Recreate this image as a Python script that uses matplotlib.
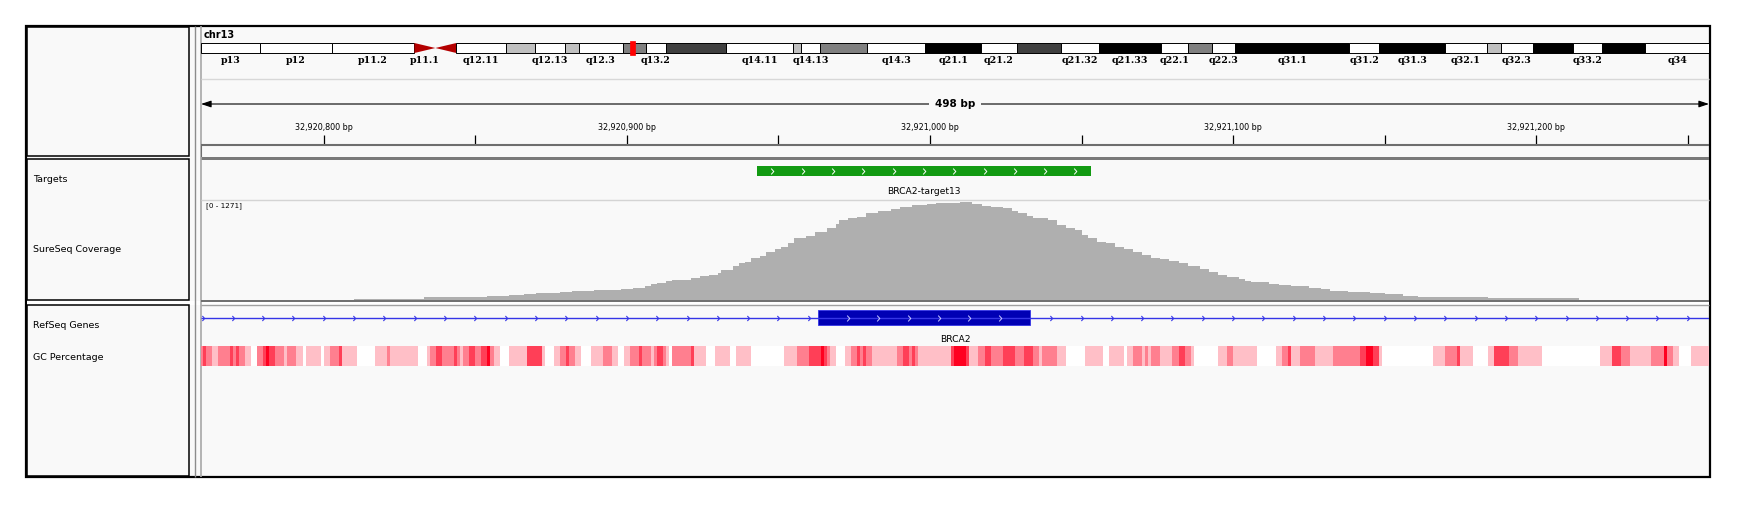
import numpy as np
import matplotlib
matplotlib.use("Agg")
import matplotlib.pyplot as plt
from matplotlib.colors import LinearSegmentedColormap, Normalize
from matplotlib.patches import Rectangle, Polygon
from matplotlib.path import Path

# ---------------------------------------------------------------- data
chrom = "chr13"
chrom_length = 115169878
view_start = 32920759.5
view_end = 32921257.0
data_range_max = 1271

band_names = ["p13", "p12", "p11.2", "p11.1", "q11", "q12.11", "q12.12", "q12.13",
              "q12.2", "q12.3", "q13.1", "q13.2", "q13.3", "q14.11", "q14.12",
              "q14.13", "q14.2", "q14.3", "q21.1", "q21.2", "q21.31", "q21.32",
              "q21.33", "q22.1", "q22.2", "q22.3", "q31.1", "q31.2", "q31.3",
              "q32.1", "q32.2", "q32.3", "q33.1", "q33.2", "q33.3", "q34"]
band_starts = [0, 4500000, 10000000, 16300000, 17900000, 19500000, 23300000,
               25500000, 27800000, 28900000, 32200000, 34000000, 35500000,
               40100000, 45200000, 45800000, 47300000, 50900000, 55300000,
               59600000, 62300000, 65700000, 68600000, 73300000, 75400000,
               77200000, 79000000, 87700000, 90000000, 95000000, 98200000,
               99300000, 101700000, 104800000, 107000000, 110300000]
band_stains = ["gvar", "stalk", "gvar", "acen", "acen", "gneg", "gpos25", "gneg",
               "gpos25", "gneg", "gpos50", "gneg", "gpos75", "gneg", "gpos25",
               "gneg", "gpos50", "gneg", "gpos100", "gneg", "gpos75", "gneg",
               "gpos100", "gneg", "gpos50", "gneg", "gpos100", "gneg", "gpos100",
               "gneg", "gpos25", "gneg", "gpos100", "gneg", "gpos100", "gneg"]
labelled_bands = ["p13", "p12", "p11.2", "p11.1", "q12.11", "q12.13", "q12.3",
                  "q13.2", "q14.11", "q14.13", "q14.3", "q21.1", "q21.2", "q21.32",
                  "q21.33", "q22.1", "q22.3", "q31.1", "q31.2", "q31.3", "q32.1",
                  "q32.3", "q33.2", "q34"]

track_names = ["Targets", "SureSeq Coverage", "RefSeq Genes", "GC Percentage"]

target_name = "BRCA2-target13"
target_start = 32920943
target_end = 32921053

gene_name = "BRCA2"
exon_start = 32920963
exon_end = 32921033

cov_start = [32920810, 32920833, 32920854, 32920861, 32920866, 32920870, 32920878,
             32920882, 32920889, 32920894, 32920898, 32920902, 32920906, 32920908,
             32920910, 32920913, 32920915, 32920921, 32920924, 32920927, 32920930,
             32920931, 32920935, 32920937, 32920939, 32920941, 32920944, 32920946,
             32920949, 32920951, 32920953, 32920955, 32920959, 32920962, 32920966,
             32920969, 32920970, 32920973, 32920976, 32920979, 32920983, 32920987,
             32920990, 32920994, 32920999, 32921002, 32921010, 32921014, 32921017,
             32921020, 32921024, 32921027, 32921029, 32921032, 32921034, 32921039,
             32921042, 32921045, 32921048, 32921050, 32921052, 32921055, 32921058,
             32921061, 32921064, 32921067, 32921070, 32921073, 32921076, 32921079,
             32921082, 32921085, 32921089, 32921092, 32921095, 32921098, 32921102,
             32921104, 32921106, 32921112, 32921115, 32921119, 32921125, 32921129,
             32921132, 32921138, 32921145, 32921150, 32921156, 32921161, 32921184]
cov_end = 32921214
cov_depth = [17, 38, 51, 64, 76, 89, 98,
             111, 123, 131, 144, 156, 182, 200,
             216, 241, 258, 276, 301, 318, 347,
             381, 436, 466, 487, 530, 559, 614,
             648, 677, 728, 784, 817, 860, 911,
             962, 1017, 1040, 1059, 1102, 1135, 1157,
             1186, 1207, 1224, 1233, 1242, 1220, 1195,
             1178, 1165, 1135, 1102, 1071, 1038, 1017,
             953, 911, 890, 826, 784, 741, 721,
             677, 648, 614, 572, 538, 521, 496,
             466, 432, 394, 352, 318, 296, 267,
             241, 225, 203, 191, 174, 156, 140,
             118, 98, 89, 76, 51, 34, 22]

gc_start = [32920759, 32920760, 32920761, 32920763, 32920765, 32920769, 32920770,
            32920771, 32920772, 32920774, 32920776, 32920778, 32920780, 32920781,
            32920782, 32920784, 32920787, 32920788, 32920791, 32920793, 32920794,
            32920799, 32920800, 32920802, 32920805, 32920806, 32920811, 32920817,
            32920821, 32920822, 32920831, 32920834, 32920835, 32920837, 32920839,
            32920843, 32920844, 32920845, 32920846, 32920848, 32920850, 32920852,
            32920854, 32920855, 32920856, 32920858, 32920861, 32920867, 32920872,
            32920873, 32920876, 32920878, 32920880, 32920881, 32920883, 32920885,
            32920888, 32920892, 32920895, 32920897, 32920899, 32920901, 32920904,
            32920905, 32920908, 32920909, 32920910, 32920912, 32920913, 32920914,
            32920915, 32920921, 32920922, 32920926, 32920929, 32920934, 32920936,
            32920941, 32920952, 32920956, 32920960, 32920964, 32920965, 32920966,
            32920967, 32920969, 32920972, 32920974, 32920976, 32920977, 32920978,
            32920979, 32920981, 32920989, 32920991, 32920993, 32920994, 32920995,
            32920996, 32921007, 32921008, 32921012, 32921013, 32921016, 32921018,
            32921020, 32921024, 32921028, 32921031, 32921034, 32921036, 32921037,
            32921042, 32921045, 32921051, 32921057, 32921059, 32921064, 32921065,
            32921067, 32921070, 32921071, 32921072, 32921073, 32921076, 32921080,
            32921082, 32921084, 32921086, 32921087, 32921095, 32921098, 32921100,
            32921108, 32921114, 32921116, 32921118, 32921119, 32921122, 32921127,
            32921133, 32921142, 32921144, 32921146, 32921148, 32921149, 32921166,
            32921170, 32921174, 32921175, 32921179, 32921184, 32921186, 32921191,
            32921194, 32921202, 32921221, 32921225, 32921228, 32921231, 32921238,
            32921242, 32921243, 32921245, 32921247, 32921251]
gc_end = 32921257
gc_pct = [55, 65, 55, 45, 55, 65, 55,
          65, 55, 45, 30, 55, 65, 75,
          65, 55, 45, 55, 45, 30, 45,
          30, 45, 55, 65, 45, 30, 45,
          55, 45, 30, 45, 55, 65, 55,
          65, 55, 45, 55, 65, 55, 65,
          75, 55, 45, 30, 45, 65, 45,
          30, 45, 55, 65, 55, 45, 30,
          45, 55, 45, 30, 45, 55, 65,
          55, 45, 55, 65, 55, 45, 30,
          55, 65, 45, 30, 45, 30, 45,
          30, 45, 55, 65, 75, 65, 55,
          45, 30, 45, 55, 65, 55, 65,
          55, 45, 55, 65, 55, 65, 55,
          45, 65, 75, 65, 45, 55, 65,
          55, 65, 55, 65, 55, 45, 55,
          45, 30, 45, 30, 45, 30, 45,
          55, 45, 55, 45, 55, 45, 55,
          65, 55, 45, 30, 45, 55, 45,
          30, 45, 55, 65, 45, 55, 45,
          55, 65, 75, 65, 45, 30, 45,
          55, 65, 45, 30, 45, 65, 55,
          45, 30, 45, 65, 55, 45, 55,
          75, 55, 45, 30, 45]

# ---------------------------------------------------------------- style
W, H, DPI = 1741, 512, 100
BG = "#f9f9f9"
STAIN_COLORS = {"gneg": "white", "gvar": "white", "stalk": "white",
                "gpos25": "#c0c0c0", "gpos50": "#808080", "gpos75": "#404040",
                "gpos100": "black"}
plt.rcParams["font.family"] = ["DejaVu Sans"]

fig = plt.figure(figsize=(W / DPI, H / DPI), dpi=DPI)
fig.patch.set_facecolor("white")


def px_axes(x0, y0, x1, y1):
    """Axes placed by pixel box; vertical units are pixels from the top."""
    ax = fig.add_axes([x0 / W, 1 - y1 / H, (x1 - x0) / W, (y1 - y0) / H])
    ax.set_axis_off()
    ax.patch.set_alpha(0)
    ax.set_ylim(y1, y0)
    return ax


# frame and panel borders
base = fig.add_axes([0, 0, 1, 1])
base.set_xlim(0, W)
base.set_ylim(H, 0)
base.set_axis_off()
base.add_patch(Rectangle((26, 26), 1684, 451, fc=BG, ec="black", lw=1.6))
base.add_patch(Rectangle((27, 300.5), 1682, 4.5, fc="white", ec="none"))
for y0, y1 in [(27, 156), (159, 300), (305, 476)]:
    base.add_patch(Rectangle((27, y0), 162, y1 - y0, fc="none", ec="black", lw=1.1))
base.vlines(195, 26, 477, color="#8c8c8c", lw=1)
base.vlines(201, 26, 477, color="#a8a8a8", lw=1.2)
base.add_patch(Rectangle((201, 156.5), 1508, 3, fc="#7a7a7a", ec="none"))
base.hlines(300.5, 201, 1709, color="#6e6e6e", lw=1.4)
base.hlines(305, 201, 1709, color="#a0a0a0", lw=1)
base.hlines(79, 201, 1709, color="#d8d8d8", lw=1)
base.hlines(199.5, 201, 1709, color="#d4d4d4", lw=1)

for name, y in zip(track_names, [180, 250, 326, 357]):
    base.text(33, y, name, fontsize=6.8, va="center", ha="left")
base.text(204, 35, chrom, fontsize=7, weight="bold", va="center", ha="left")

# ideogram
ideo = px_axes(201, 30, 1709, 68)
ideo.set_xlim(0, chrom_length)
band_ends = band_starts[1:] + [chrom_length]
for name, s, e, stain in zip(band_names, band_starts, band_ends, band_stains):
    if stain == "acen":
        if name.startswith("p"):
            tri = [(s, 43), (s, 53), (e, 48)]
        else:
            tri = [(e, 43), (e, 53), (s, 48)]
        ideo.add_patch(Polygon(tri, closed=True, fc="#b40000", ec="none"))
    else:
        ideo.add_patch(Rectangle((s, 43), e - s, 10, fc=STAIN_COLORS[stain],
                                 ec="black", lw=0.7))
    if name in labelled_bands:
        ideo.text((s + e) / 2, 60.5, name, ha="center", va="center", fontsize=6.8,
                  family="DejaVu Serif", weight="bold")
view_mid = (view_start + view_end) / 2
marker_w = 0.38e6
ideo.add_patch(Rectangle((view_mid - marker_w / 2, 41), marker_w, 14,
                         fc="red", ec="red", lw=0.5))

# ruler
rl = px_axes(201, 80, 1709, 157)
rl.set_xlim(view_start, view_end)
rl.annotate("", xy=(view_start, 104), xytext=(view_end, 104),
            arrowprops=dict(arrowstyle="<|-|>,head_length=0.6,head_width=0.2",
                            color="black", lw=0.8, shrinkA=0, shrinkB=0))
span = int(view_end - view_start + 0.5)
rl.text(view_mid, 104, f"{span} bp", ha="center", va="center", fontsize=7.5,
        weight="bold", bbox=dict(boxstyle="square,pad=0.55", fc=BG, ec="none"))
tick_pos = np.arange(np.ceil(view_start / 50) * 50, view_end, 50)
rl.vlines(tick_pos, 135, 145, color="black", lw=0.9)
for p in tick_pos:
    if p % 100 == 0:
        rl.text(p, 127, f"{int(p):,} bp", ha="center", va="center", fontsize=5.8)
rl.hlines(145, view_start, view_end, color="#6e6e6e", lw=1.5)
rl.vlines(view_start, 145, 157, color="#6e6e6e", lw=1.5)

chev = Path([(-0.45, 1.0), (0.45, 0.0), (-0.45, -1.0)],
            [Path.MOVETO, Path.LINETO, Path.LINETO])

# targets
tg = px_axes(201, 160, 1709, 200)
tg.set_xlim(view_start, view_end)
tg.add_patch(Rectangle((target_start, 166), target_end - target_start, 10,
                       fc="#129a12", ec="none"))
tchev = np.arange(target_start + 5, target_end - 2, 10)
tg.plot(tchev, np.full(len(tchev), 171), ls="none", marker=chev, ms=4.2,
        mfc="none", mec="white", mew=0.7)
tg.text((target_start + target_end) / 2, 192, target_name, ha="center",
        va="center", fontsize=6.6)

# coverage
cov = px_axes(201, 200, 1709, 300)
cov.set_xlim(view_start, view_end)
cov.set_ylim(0, data_range_max)
cov.stairs(cov_depth, cov_start + [cov_end], fill=True, color="#afafaf", lw=0)
cov.text(0.0033, 0.94, f"[0 - {data_range_max}]", transform=cov.transAxes,
         fontsize=5.2, va="center", ha="left")

# RefSeq gene
gn = px_axes(201, 306, 1709, 346)
gn.set_xlim(view_start, view_end)
gn.hlines(318, view_start, view_end, color="#3535e6", lw=1)
ichev = np.arange(view_start + 0.5, view_end, 10)
ichev = ichev[(ichev < exon_start - 2) | (ichev > exon_end + 2)]
gn.plot(ichev, np.full(len(ichev), 318), ls="none", marker=chev, ms=3.6,
        mfc="none", mec="#3535e6", mew=0.8)
gn.add_patch(Rectangle((exon_start, 310), exon_end - exon_start, 15,
                       fc="#0000b4", ec="#3535e6", lw=0.6))
echev = np.arange(exon_start + 10, exon_end - 5, 10)
gn.plot(echev, np.full(len(echev), 317.5), ls="none", marker=chev, ms=4.2,
        mfc="none", mec="#c8c8ff", mew=0.7)
gn.text(view_mid, 339, gene_name, ha="center", va="center", fontsize=6.6)

# GC percentage
gc_cmap = LinearSegmentedColormap.from_list("gc", ["white", "#ff0020"])
gc = px_axes(201, 346, 1709, 366)
gc.set_xlim(view_start, view_end)
gc.set_ylim(0, 1)
gc.pcolormesh(np.array(gc_start + [gc_end]), [0, 1], np.array([gc_pct]),
              cmap=gc_cmap, norm=Normalize(35, 75), shading="flat")

fig.savefig("out.png", dpi=DPI, facecolor="white")
